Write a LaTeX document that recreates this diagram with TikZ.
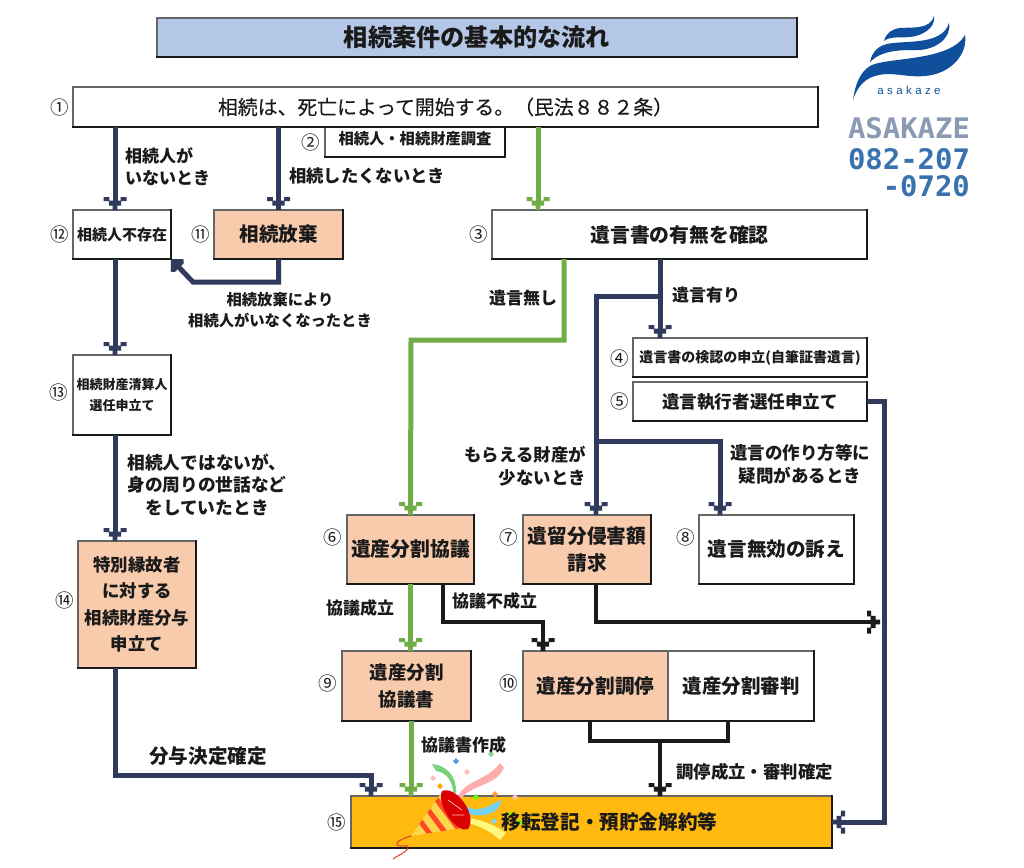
\documentclass[tikz,border=0pt]{standalone}
\usepackage{fontspec}
\usepackage{graphicx}
\setmainfont{Noto Sans CJK JP}
\newfontfamily\blocky{DejaVu Sans Mono}
\newfontfamily\latinf{Liberation Sans}
\newfontfamily\medf[FakeBold=0.25]{Noto Sans CJK JP}
\usetikzlibrary{calc}
\definecolor{navy}{HTML}{2F3A5C}
\definecolor{grn}{HTML}{70AD47}
\definecolor{blk}{HTML}{1A1A1A}
\definecolor{peach}{HTML}{F8CBAD}
\definecolor{titlebg}{HTML}{B4C7E7}
\definecolor{gold}{HTML}{FFB90F}
\definecolor{logob}{HTML}{0F4F9B}
\definecolor{logog}{HTML}{8A9AB3}
\definecolor{logot}{HTML}{3A72AD}
\pgfdeclarearrow{
  name=Pix,
  setup code={
    \pgfarrowssettipend{0pt}
    \pgfarrowssetlineend{-5pt}
    \pgfarrowssetvisualbackend{-13pt}
    \pgfarrowssetbackend{-13pt}
  },
  drawing code={
    \pgfpathmoveto{\pgfqpoint{0pt}{2.4pt}}
    \pgfpathlineto{\pgfqpoint{-4.5pt}{2.4pt}}
    \pgfpathlineto{\pgfqpoint{-4.5pt}{6.2pt}}
    \pgfpathlineto{\pgfqpoint{-8.8pt}{6.2pt}}
    \pgfpathlineto{\pgfqpoint{-8.8pt}{11.5pt}}
    \pgfpathlineto{\pgfqpoint{-13pt}{11.5pt}}
    \pgfpathlineto{\pgfqpoint{-13pt}{5.6pt}}
    \pgfpathlineto{\pgfqpoint{-9.3pt}{5.6pt}}
    \pgfpathlineto{\pgfqpoint{-9.3pt}{2.4pt}}
    \pgfpathlineto{\pgfqpoint{-9.3pt}{-2.4pt}}
    \pgfpathlineto{\pgfqpoint{-9.3pt}{-5.6pt}}
    \pgfpathlineto{\pgfqpoint{-13pt}{-5.6pt}}
    \pgfpathlineto{\pgfqpoint{-13pt}{-11.5pt}}
    \pgfpathlineto{\pgfqpoint{-8.8pt}{-11.5pt}}
    \pgfpathlineto{\pgfqpoint{-8.8pt}{-6.2pt}}
    \pgfpathlineto{\pgfqpoint{-4.5pt}{-6.2pt}}
    \pgfpathlineto{\pgfqpoint{-4.5pt}{-2.4pt}}
    \pgfpathlineto{\pgfqpoint{0pt}{-2.4pt}}
    \pgfpathclose
    \pgfusepathqfill
  }
}
\pgfdeclarearrow{
  name=PixD,
  setup code={
    \pgfarrowssettipend{0pt}
    \pgfarrowssetlineend{-8pt}
    \pgfarrowssetvisualbackend{-12pt}
    \pgfarrowssetbackend{-12pt}
  },
  drawing code={
    \pgfpathmoveto{\pgfqpoint{0pt}{0pt}}
    \pgfpathlineto{\pgfqpoint{-9pt}{9pt}}
    \pgfpathlineto{\pgfqpoint{-12pt}{6pt}}
    \pgfpathlineto{\pgfqpoint{-12pt}{-6pt}}
    \pgfpathlineto{\pgfqpoint{-9pt}{-9pt}}
    \pgfpathclose
    \pgfusepathqfill
  }
}
\newcommand\fs[2]{\fontsize{#1pt}{#2pt}\selectfont}
\tikzset{
  box/.style={draw=black!60,line width=1.3pt,fill=white,inner sep=0pt,outer sep=0pt,align=center,text=blk},
  pfill/.style={fill=peach},
  bf/.style n args={2}{font=\bfseries\fs{#1}{#2}},
  edge/.style={draw=blk,line width=2.6pt,line cap=rect},
  nconn/.style={color=navy,line width=5pt,-{Pix[]}},
  nconnd/.style={color=navy,line width=5pt,-{PixD[]}},
  gconn/.style={color=grn,line width=5pt,-{Pix[]}},
  kconn/.style={color=blk,line width=4.5pt,-{Pix[]}},
  nplain/.style={color=navy,line width=5pt},
  kplain/.style={color=blk,line width=4.5pt},
  lab/.style={inner sep=0pt,align=center,text=blk},
  num/.style={inner sep=0pt,text=blk},
}
\newcommand\bx[7]{%
  \pgfmathsetmacro\cxx{(#2+#4)/2}\pgfmathsetmacro\cyy{(#3+#5)/2}%
  \pgfmathsetmacro\www{#4-#2}\pgfmathsetmacro\hhh{#5-#3}%
  \node[box,#6,minimum width=\www pt,minimum height=\hhh pt] (#1) at (\cxx,\cyy) {#7};%
  \draw[edge] (#1.north east) -- (#1.south east) -- (#1.south west);%
}
\begin{document}
\begin{tikzpicture}[x=1pt,y=-1pt]
\useasboundingbox (0,0) rectangle (1024,867);
\fill[white] (0,0) rectangle (1024,867);

% boxes
\bx{title}{157}{18}{797}{57}{fill=titlebg,bf={24.2}{28}}{相続案件の基本的な流れ}
\bx{n2}{325}{120}{505}{157}{bf={15.3}{18}}{\raisebox{-8pt}{相続人・相続財産調査}}
\bx{n1}{73}{87}{818}{127}{font=\medf\fs{19.85}{24}}{相続は、死亡によって開始する。（民法８８２条）}
\bx{n12}{73}{210}{171}{259}{bf={15}{18}}{相続人不存在}
\bx{n11}{214}{210}{343}{259}{pfill,bf={19.5}{24}}{相続放棄}
\bx{n3}{492}{210}{867}{259}{bf={19.8}{24}}{遺言書の有無を確認}
\bx{n4}{633}{338}{867}{377}{bf={14}{16}}{遺言書の検認の申立(自筆証書遺言)}
\bx{n5}{633}{382}{867}{421}{bf={17.6}{20}}{遺言執行者選任申立て}
\bx{n13}{73}{355}{171}{435}{bf={13}{21}}{相続財産清算人\\選任申立て}
\bx{n14}{78}{541}{196}{668}{pfill,bf={17.4}{26.5}}{特別縁故者\\に対する\\相続財産分与\\申立て}
\bx{n6}{347}{515}{474}{584}{pfill,bf={19.8}{24}}{遺産分割協議}
\bx{n7}{523}{515}{651}{584}{pfill,bf={19.7}{27}}{遺留分侵害額\\請求}
\bx{n8}{699}{515}{854}{584}{bf={19.6}{24}}{遺言無効の訴え}
\bx{n9}{342}{651}{471}{721}{pfill,bf={18.5}{27}}{遺産分割\\協議書}
\node[box,pfill,bf={19.6}{24},minimum width=145pt,minimum height=70pt] (n10a) at (595.5,686) {遺産分割調停};
\draw[edge] (n10a.south east) -- (n10a.south west);
\bx{n10b}{668}{651}{814}{721}{bf={19.5}{24}}{遺産分割審判}
\bx{n15}{351}{796}{832}{848}{fill=gold}{}

% junctions
\coordinate (jA) at (660,296);
\coordinate (jB) at (596,296);
\coordinate (jC) at (596,441);
\coordinate (jD) at (720,441);
\coordinate (jF) at (660,741);
\coordinate (jM) at (880,622);

% connectors
\draw[nconn] ([xshift=-7pt]n12.north |- n1.south) -- ([xshift=-7pt]n12.north);
\draw[nconn] (n11.north |- n1.south) -- (n11.north);
\draw[gconn] ([xshift=-141.5pt]n3.north |- n1.south) -- ([xshift=-141.5pt]n3.north);
\draw[nconnd] (n11.south) -- (278.5,282) -- (193,282) -- (n12.south east);
\draw[nconn] ([xshift=-7pt]n12.south) -- ([xshift=-7pt]n13.north);
\draw[nconn] ([xshift=-7pt]n13.south) -- ([xshift=-7pt]n13.south |- n14.north);
\draw[nconn] ([xshift=-22pt]n14.south) -- (115,775) -- (371,775) -- ([xshift=-220.5pt]n15.north);
\draw[gconn] ([xshift=-115.5pt]n3.south) -- (564,340) -- (411,340) -- (n6.north);
\draw[nconn] ([xshift=-19.5pt]n3.south) -- ([xshift=-90pt]n4.north);
\draw[nplain] (jA) -- (jB) -- (jC);
\draw[nconn] (jC) -- ([xshift=9pt]n7.north);
\draw[nconn] (jC) -- (jD) -- ([xshift=-56.5pt]n8.north);
\draw[nconn] (n5.east) -- (884,401.5) -- (884,822) -- (n15.east);
\draw[kconn] ([xshift=9pt]n7.south) -- (596,622) -- (jM);
\draw[kconn] ([xshift=32.5pt]n6.south) -- (443,622) -- (543,622) -- ([xshift=-52.5pt]n10a.north);
\draw[gconn] (n6.south) -- (n9.north -| n6.south);
\draw[gconn] ([xshift=4.5pt]n9.south) -- ([xshift=-180.5pt]n15.north);
\draw[kplain] ([xshift=-5.5pt]n10a.south) -- (590,741) -- (728,741) -- ([xshift=-13pt]n10b.south);
\draw[kconn] (jF) -- ([xshift=68.5pt]n15.north);

% party popper
\draw[color=red!50!brown,line width=1pt] (413,835) .. controls (405,838) and (394,842) .. (397,845) .. controls (400,848) and (410,843) .. (408,848) .. controls (406,853) and (398,855) .. (393,859);
\fill[color=green!50!gray!70!white] (432,764) .. controls (445,765) and (457,775) .. (456,793) -- (453,793) .. controls (453,780) and (445,772) .. (436,771) -- cycle;
\fill[color=pink!90!red] (458,796) .. controls (466,780) and (488,780) .. (500,763) -- (504,768) .. controls (496,786) and (472,784) .. (462,798) -- cycle;
\fill[color=cyan!55!white] (466,806) .. controls (480,814) and (490,805) .. (501,800) .. controls (502,810) and (486,820) .. (466,813) -- cycle;
\fill[color=yellow!50!white] (468,818) .. controls (480,819) and (495,825) .. (506,833) -- (500,840) .. controls (492,832) and (480,826) .. (468,823) -- cycle;
\fill[color=yellow!60!orange!70!white] (411,836) -- (442,792) -- (468,827) -- cycle;
\begin{scope}
\clip (411,836) -- (442,792) -- (468,827) -- cycle;
\foreach \sx/\sy in {424/826,435/819,446/812}
  \draw[color=red!70!orange!85!white,line width=5pt] (\sx-18,\sy-24) -- (\sx+18,\sy+24);
\end{scope}
\fill[color=red!85!black] (442,791) .. controls (456,785) and (478,815) .. (468,829) .. controls (458,834) and (436,806) .. (442,791) -- cycle;
\draw[color=pink,line width=.7pt] (448,800) -- (462,810) (452,815) -- (464,815);
\foreach \px/\py/\pc in {456/761/cyan!60!blue!70!white,467/772/pink,491/754/green!50!gray!60!white,433/778/pink,440/786/orange!70!yellow,476/797/green!60!yellow,495/794/orange!80!white,515/797/pink,494/821/cyan!50!white,512/814/green!60!yellow,520/822/green!60!yellow}
  \fill[color=\pc] (\px-3,\py) -- (\px,\py-3) -- (\px+3,\py) -- (\px,\py+3) -- cycle;
\node[lab,bf={19.6}{24}] (n15t) at (609.5,822) {移転登記・預貯金解約等};

% numbers
\foreach \nm/\x/\y/\t in {a1/60/107/①,a2/311/142/②,a3/479/234/③,a4/620/358/④,a5/620/401/⑤,a6/333/537/⑥,a7/509/537/⑦,a8/686/537/⑧,a9/328/683/⑨,a10/509/683/⑩,a11/201/234/⑪,a12/60/234/⑫,a13/59/392/⑬,a14/65/600/⑭,a15/337/822/⑮}
  \node[num,font=\fs{18.5}{22}] (\nm) at (\x,\y) {\t};

% connector labels
\node[lab,align=left,anchor=west,bf={17}{22}] (t1) at (125,167) {相続人が\\いないとき};
\node[lab,anchor=west,bf={17.3}{20}] (t2) at (289,176) {相続したくないとき};
\node[lab,bf={15.3}{21}] (t3) at (280,310) {相続放棄により\\相続人がいなくなったとき};
\node[lab,anchor=west,bf={17}{20}] (t4) at (489,298) {遺言無し};
\node[lab,anchor=west,bf={17}{20}] (t5) at (672,295) {遺言有り};
\node[lab,align=right,anchor=east,bf={17.4}{22.5}] (t6) at (586,466) {もらえる財産が\\少ないとき};
\node[lab,bf={17.5}{23}] (t7) at (800,464.5) {遺言の作り方等に\\疑問があるとき};
\node[lab,bf={17.7}{22.5}] (t8) at (207,484.5) {相続人ではないが、\\身の周りの世話など\\をしていたとき};
\node[lab,anchor=west,bf={17}{20}] (t9) at (326,608) {協議成立};
\node[lab,anchor=west,bf={17}{20}] (t10) at (452,601) {協議不成立};
\node[lab,anchor=west,bf={17}{20}] (t11) at (421,745) {協議書作成};
\node[lab,anchor=west,bf={17.4}{20}] (t12) at (676,772) {調停成立・審判確定};
\node[lab,anchor=west,bf={19.6}{24}] (t13) at (149,756) {分与決定確定};

% logo
\fill[color=logob] (853,100) .. controls (855,85) and (860,72) .. (870,66) .. controls (885,57) and (950,62) .. (965,35) .. controls (968,55) and (950,74) .. (925,76) .. controls (905,78) and (890,70) .. (872,77) .. controls (862,81) and (856,90) .. (853,100) -- cycle;
\fill[color=logob] (870,62) .. controls (872,52) and (878,46) .. (887,44) .. controls (905,40) and (942,46) .. (949,23) .. controls (952,38) and (935,50) .. (918,50) .. controls (900,50) and (882,50) .. (870,62) -- cycle;
\fill[color=logob] (884,41) .. controls (886,33) and (892,29) .. (900,28) .. controls (912,27) and (930,30) .. (934,16) .. controls (936,28) and (922,36) .. (910,37) .. controls (900,38) and (890,36) .. (884,41) -- cycle;
\node[inner sep=0pt,text=logob,font=\latinf\fs{11.5}{14}] (lg1) at (909,90) {a\hspace{3.4pt}s\hspace{3.4pt}a\hspace{3.4pt}k\hspace{3.4pt}a\hspace{3.4pt}z\hspace{3.4pt}e};
\node[inner sep=0pt,text=logog] (lg2) at (909,128.5) {\resizebox{122pt}{21pt}{\blocky\bfseries ASAKAZE}};
\node[inner sep=0pt,text=logot] (lg3) at (909,159.5) {\resizebox{122pt}{21pt}{\blocky\bfseries 082-207}};
\node[inner sep=0pt,text=logot,anchor=east] (lg4) at (970,186.5) {\resizebox{87pt}{21pt}{\blocky\bfseries -0720}};
\end{tikzpicture}
\end{document}
